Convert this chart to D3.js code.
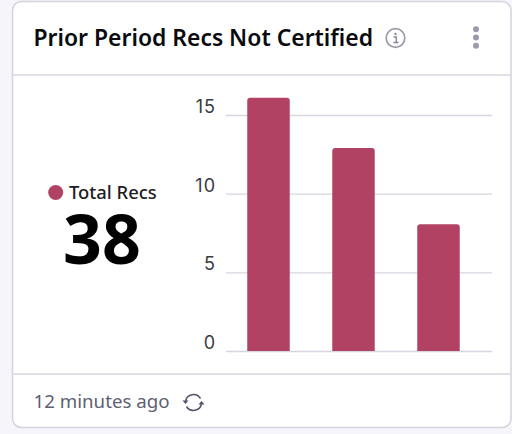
<!DOCTYPE html>
<html><head><meta charset="utf-8">
<script src="https://cdn.jsdelivr.net/npm/d3@7"></script>
<style>html,body{margin:0;padding:0;background:#f5f5fb;overflow:hidden}svg{display:block}</style>
</head><body><svg id="c" width="512" height="434"></svg>
<script>
const categories = ["A","B","C"];
const recs = [16.1, 12.9, 8.05];
const tickValues = [0,5,10,15];
const titleText = "Prior Period Recs Not Certified";
const legendText = "Total Recs";
const totalText = "38";
const footerText = "12 minutes ago";

const svg = d3.select("#c");
const sans = "'Noto Sans',sans-serif";
svg.append("rect").attr("x",12.5).attr("y",1.5).attr("width",498.5).attr("height",426).attr("rx",9)
  .attr("fill","#fff").attr("stroke","#d4d4de").attr("stroke-width",1.5);
[75,374].forEach(y=>svg.append("line").attr("x1",13).attr("x2",511).attr("y1",y).attr("y2",y).attr("stroke","#d6d6e0").attr("stroke-width",1.5));

svg.append("text").attr("x",33.5).attr("y",46).attr("font-family",sans).attr("font-weight",600).attr("font-size",22.9).attr("fill","#0b0b0f").text(titleText);

// info icon
const info = svg.append("g").attr("transform","translate(395.5,38)");
info.append("circle").attr("r",9.3).attr("fill","none").attr("stroke","#9b9baa").attr("stroke-width",1.7);
info.append("circle").attr("cy",-4).attr("r",1.2).attr("fill","#8a8a9a");
info.append("path").attr("d","M-2 -1 H0.8 V4 M-2.2 4.4 H3").attr("fill","none").attr("stroke","#8a8a9a").attr("stroke-width",1.5);
// kebab
[-8.3,0,8.3].forEach(d=>svg.append("circle").attr("cx",476).attr("cy",37.5+d).attr("r",3).attr("fill","#9a9aab"));

// legend and total
svg.append("circle").attr("cx",55.7).attr("cy",192.5).attr("r",7.5).attr("fill","#b24263");
svg.append("text").attr("x",69).attr("y",199).attr("font-family",sans).attr("font-size",18.4).attr("font-weight",500).attr("fill","#1d1d26").text(legendText);
svg.append("text").attr("x",102).attr("y",263.5).attr("text-anchor","middle").attr("font-family",sans).attr("font-weight",700).attr("font-size",68).attr("fill","#000").text(totalText);

// chart
const y = d3.scaleLinear().domain([0,15]).range([351,115]);
const x = d3.scaleBand().domain(categories).range([226,481]).paddingInner(0.5).paddingOuter(0.25);
const axis = svg.append("g").attr("transform","translate(226,0)")
  .call(d3.axisLeft(y).tickValues(tickValues).tickSize(-266).tickPadding(10).tickFormat(d3.format("d")));
axis.select(".domain").remove();
axis.selectAll(".tick line").attr("stroke","#d6d6e0").attr("stroke-width",1.3);
axis.selectAll(".tick text").attr("font-family","Inter,sans-serif").attr("font-size",18).attr("letter-spacing",1).attr("fill","#3a3a42").attr("dy","-0.14em");
const r=3;
svg.selectAll("path.bar").data(recs).join("path").attr("class","bar").attr("fill","#b24263")
  .attr("d",(d,i)=>{const a=x(categories[i]),w=x.bandwidth(),t=y(d),b=y(0);
    return `M${a} ${b}V${t+r}Q${a} ${t} ${a+r} ${t}H${a+w-r}Q${a+w} ${t} ${a+w} ${t+r}V${b}Z`;});

// footer
svg.append("text").attr("x",33.5).attr("y",408).attr("font-family",sans).attr("font-size",18.7).attr("fill","#5e5f73").text(footerText);
const ref = svg.append("g").attr("transform","translate(193.5,402.5)").attr("fill","none").attr("stroke","#50516a").attr("stroke-width",1.5);
ref.append("path").attr("d","M-8 -1.5 A8.2 8.2 0 0 1 7 -4");
ref.append("path").attr("d","M8 1.5 A8.2 8.2 0 0 1 -7 4");
ref.append("path").attr("d","M-11 -2 L-8 1.5 L-5 -2Z M11 2 L8 -1.5 L5 2Z").attr("fill","#50516a").attr("stroke","none");
</script></body></html>
